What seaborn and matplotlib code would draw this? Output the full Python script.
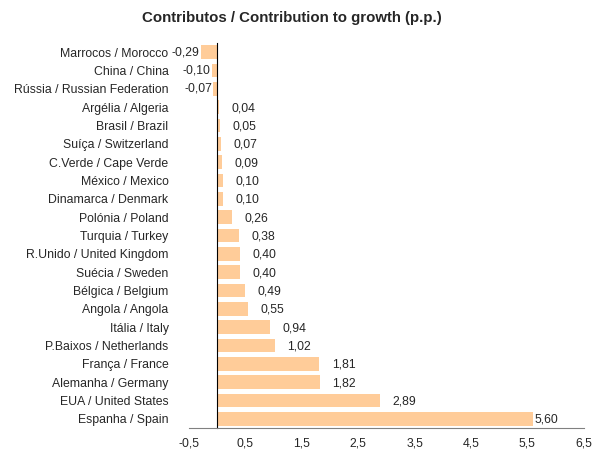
import matplotlib

matplotlib.use("Agg")
import matplotlib.pyplot as plt
import numpy as np
import pandas as pd
import seaborn as sns

# data, top to bottom
countries = [
    "Marrocos / Morocco", "China / China", "Rússia / Russian Federation",
    "Argélia / Algeria", "Brasil / Brazil", "Suíça / Switzerland",
    "C.Verde / Cape Verde", "México / Mexico", "Dinamarca / Denmark",
    "Polónia / Poland", "Turquia / Turkey", "R.Unido / United Kingdom",
    "Suécia / Sweden", "Bélgica / Belgium", "Angola / Angola",
    "Itália / Italy", "P.Baixos / Netherlands", "França / France",
    "Alemanha / Germany", "EUA / United States", "Espanha / Spain",
]
contrib = [-0.29, -0.10, -0.07, 0.04, 0.05, 0.07, 0.09, 0.10, 0.10, 0.26,
           0.38, 0.40, 0.40, 0.49, 0.55, 0.94, 1.02, 1.81, 1.82, 2.89, 5.60]
x_ticks = [-0.5, 0.5, 1.5, 2.5, 3.5, 4.5, 5.5, 6.5]

df = pd.DataFrame({"country": countries, "contrib": contrib})

sns.set_style("white")
plt.rcParams["font.family"] = ["Liberation Sans", "DejaVu Sans"]

fig = plt.figure(figsize=(6.0, 4.53), dpi=100)
ax = fig.add_axes([0.315, 0.055, 0.658, 0.85])

sns.barplot(data=df, x="contrib", y="country", orient="h", color="#FFCC99",
            saturation=1, width=0.75, edgecolor="none", ax=ax)

ax.set_xlim(-0.5, 6.5)
ax.set_xticks(x_ticks)
ax.set_xticklabels([f"{t:.1f}".replace(".", ",") for t in x_ticks])
ax.set_xlabel("")
ax.set_ylabel("")

# y axis sits at zero, ticks between categories
ax.spines["left"].set_position(("data", 0))
for s in ["top", "right"]:
    ax.spines[s].set_visible(False)
ax.spines["left"].set_color("black")
ax.spines["left"].set_linewidth(0.8)
ax.spines["bottom"].set_color("#808080")
ax.spines["bottom"].set_linewidth(0.8)

ax.set_yticks(np.arange(-0.5, len(countries)), minor=True)
ax.tick_params(axis="y", which="major", length=0, pad=35, labelsize=8.8)
ax.tick_params(axis="y", which="minor", length=3, direction="out", color="black")
ax.tick_params(axis="x", which="major", length=3, direction="out", color="#808080",
               labelsize=8.8)

for i, v in enumerate(contrib):
    lab = f"{v:.2f}".replace(".", ",")
    if v < 0:
        ax.text(v - 0.02, i, lab, ha="right", va="center", fontsize=8.8)
    else:
        ax.text(min(v + 0.22, 5.62), i + 0.05, lab, ha="left", va="center", fontsize=8.8)

fig.suptitle("Contributos / Contribution to growth (p.p.)", fontsize=10.8,
             fontweight="bold", x=0.487, y=0.975)

fig.savefig("out.png", dpi=100)
